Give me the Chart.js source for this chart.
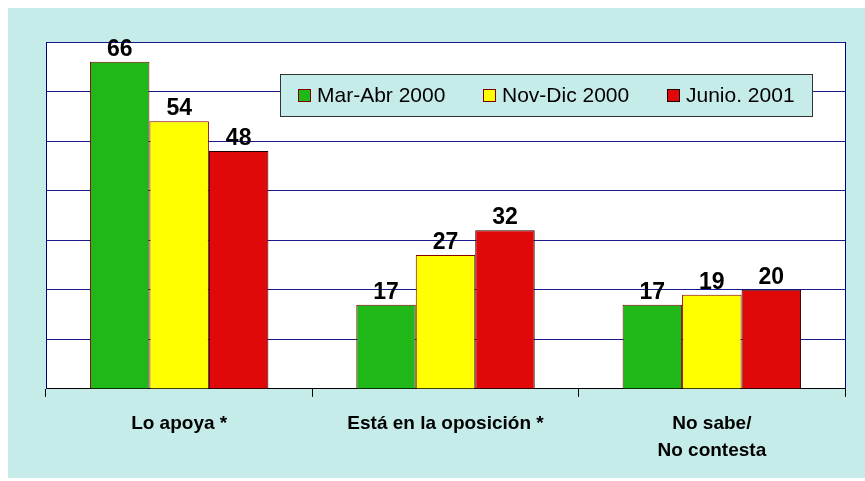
<!DOCTYPE html>
<html>
<head>
<meta charset="utf-8">
<script src="https://cdn.jsdelivr.net/npm/chart.js@4/dist/chart.umd.min.js"></script>
<style>
	body { margin: 0; background: #fff; }
	#wrap { position: absolute; left: 8px; top: 8px; width: 857px; height: 470px; background: #c6ecea; }
</style>
</head>
<body>
<div id="wrap"><canvas id="surveyChart" width="857" height="470"></canvas></div>
<script>
const categories = ['Lo apoya *', 'Está en la oposición *', ['No sabe/', 'No contesta']];
const seriesNames = ['Mar-Abr 2000', 'Nov-Dic 2000', 'Junio. 2001'];
const marAbr2000 = [66, 17, 17];
const novDic2000 = [54, 27, 19];
const junio2001 = [48, 32, 20];
const yTicks = [0, 10, 20, 30, 40, 50, 60, 70];

const fills = ['#20b818', '#ffff00', '#e00808'];
const borders = ['#800000', '#800000', '#200000'];

// white plot area + navy frame on the right side
const plotFrame = {
	id: 'plotFrame',
	beforeDraw(chart) {
		const { ctx, chartArea: a } = chart;
		ctx.save();
		ctx.fillStyle = '#ffffff';
		ctx.fillRect(a.left, a.top, a.right - a.left, a.bottom - a.top);
		ctx.restore();
	},
	afterDraw(chart) {
		const { ctx, chartArea: a } = chart;
		ctx.save();
		ctx.strokeStyle = '#000080';
		ctx.lineWidth = 1;
		ctx.beginPath();
		ctx.moveTo(Math.round(a.right) + 0.5, a.top);
		ctx.lineTo(Math.round(a.right) + 0.5, a.bottom);
		ctx.stroke();
		ctx.restore();
	},
};

// value labels above bars
const valueLabels = {
	id: 'valueLabels',
	afterDatasetsDraw(chart) {
		const ctx = chart.ctx;
		ctx.save();
		ctx.font = 'bold 23px Arial, "Liberation Sans", sans-serif';
		ctx.fillStyle = '#000';
		ctx.textAlign = 'center';
		ctx.textBaseline = 'alphabetic';
		chart.data.datasets.forEach((ds, i) => {
			chart.getDatasetMeta(i).data.forEach((bar, j) => {
				ctx.fillText(ds.data[j], bar.x, bar.y - 6);
			});
		});
		ctx.restore();
	},
};

// legend box drawn inside the plot
const legendBox = {
	id: 'legendBox',
	afterDraw(chart) {
		const ctx = chart.ctx;
		const box = { x: 272, y: 66, w: 532, h: 42 };
		const itemX = [18, 203, 387];
		ctx.save();
		ctx.fillStyle = '#c6ecea';
		ctx.fillRect(box.x, box.y, box.w, box.h);
		ctx.strokeStyle = '#333';
		ctx.lineWidth = 1;
		ctx.strokeRect(box.x + 0.5, box.y + 0.5, box.w, box.h);
		ctx.font = '21px Arial, "Liberation Sans", sans-serif';
		ctx.textBaseline = 'middle';
		chart.data.datasets.forEach((ds, i) => {
			const sx = box.x + itemX[i];
			const cy = box.y + box.h / 2;
			ctx.fillStyle = ds.backgroundColor;
			ctx.fillRect(sx, cy - 6, 13, 13);
			ctx.strokeStyle = ds.borderColor;
			ctx.strokeRect(sx + 0.5, cy - 5.5, 12, 12);
			ctx.fillStyle = '#000';
			ctx.fillText(ds.label, sx + 19, cy + 1);
		});
		ctx.restore();
	},
};

const seriesData = [marAbr2000, novDic2000, junio2001];

new Chart(document.getElementById('surveyChart'), {
	type: 'bar',
	data: {
		labels: categories,
		datasets: seriesNames.map((name, i) => ({
			label: name,
			data: seriesData[i],
			backgroundColor: fills[i],
			borderColor: borders[i],
			borderWidth: 1,
			categoryPercentage: 0.67,
			barPercentage: 1,
		})),
	},
	options: {
		responsive: false,
		animation: false,
		layout: { padding: { left: 38, top: 34, right: 20, bottom: 0 } },
		plugins: {
			legend: { display: false },
			tooltip: { enabled: false },
		},
		scales: {
			x: {
				grid: {
					offset: true,
					drawOnChartArea: false,
					drawTicks: true,
					tickLength: 8,
					color: '#000',
				},
				border: { color: '#000', width: 1 },
				ticks: {
					color: '#000',
					padding: 13,
					font: { family: 'Arial, "Liberation Sans", sans-serif', size: 19, weight: 'bold', lineHeight: 1.45 },
				},
			},
			y: {
				min: yTicks[0],
				max: yTicks[yTicks.length - 1],
				afterBuildTicks(axis) {
					axis.ticks = yTicks.map((v) => ({ value: v }));
				},
				grid: { color: '#1a1a8c', drawTicks: false },
				border: { color: '#000080', width: 1 },
				ticks: { display: false },
			},
		},
	},
	plugins: [plotFrame, valueLabels, legendBox],
});
</script>
</body>
</html>
